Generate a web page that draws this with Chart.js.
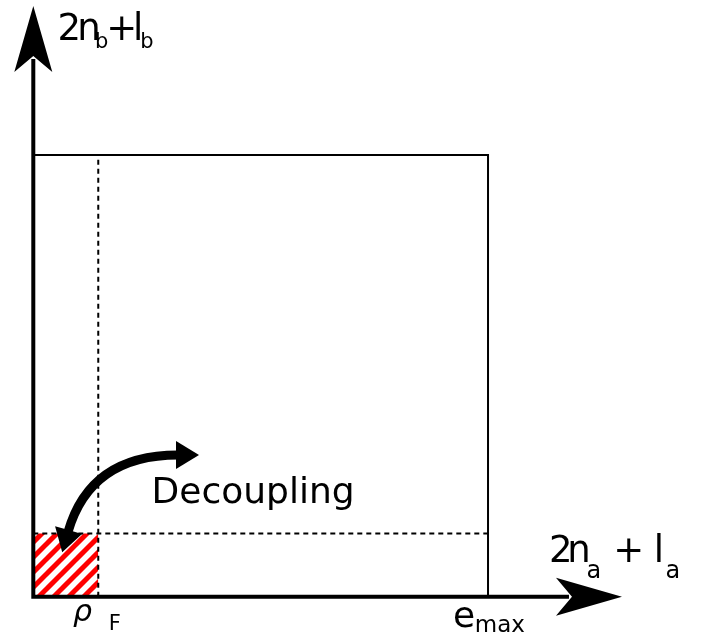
<!DOCTYPE html>
<html>
<head>
<meta charset="utf-8">
<script src="https://cdn.jsdelivr.net/npm/chart.js@4/dist/chart.umd.min.js"></script>
<style>
  html, body { margin: 0; padding: 0; background: #fff; }
  #wrap { width: 702px; height: 639px; }
</style>
</head>
<body>
<div id="wrap"><canvas id="c" width="702" height="639"></canvas></div>
<script>
// schematic values, in model-space units
const emax = 7;
const rhoF = 1;
const axisTips = [9.062, 9.361];          // x-axis tip, y-axis tip
const boxX = [0, 0, emax, emax];
const boxY = [0, emax, emax, 0];
// decoupling arrow: start, control, end
const curveX = [2.228, 0.873, 0.534];
const curveY = [2.246, 2.246, 1.025];

// text pieces: [text, x, y, size, italic]
const labelParts = [
  ['2', 0.371, 8.822, 37, false],
  ['n', 0.675, 8.822, 37, false],
  ['b', 0.95, 8.696, 21, false],
  ['+', 1.124, 8.822, 37, false],
  ['l', 1.535, 8.822, 37, false],
  ['b', 1.648, 8.696, 21, false],
  ['2', 7.939, 0.55, 37, false],
  ['n', 8.218, 0.55, 37, false],
  ['a', 8.515, 0.295, 24, false],
  ['+', 8.928, 0.55, 37, false],
  ['l', 9.55, 0.55, 37, false],
  ['a', 9.733, 0.295, 24, false],
  ['Decoupling', 1.82, 1.483, 36, false],
  ['\u03C1', 0.611, -0.391, 30, true],
  ['F', 1.162, -0.528, 21, false],
  ['e', 6.461, -0.48, 36, false],
  ['max', 6.796, -0.559, 23, false],
];

const FONT = '"DejaVu Sans", sans-serif';

function pts(xs, ys) {
  return xs.map((x, i) => ({ x: x, y: ys[i] }));
}

// red "/" stripes on white
function hatchPattern() {
  const s = 15, k = 5.5;
  const c = document.createElement('canvas');
  c.width = s; c.height = s;
  const g = c.getContext('2d');
  g.fillStyle = '#fff';
  g.fillRect(0, 0, s, s);
  g.strokeStyle = '#ff0000';
  g.lineWidth = 5;
  g.beginPath();
  [k - s, k, k + s].forEach(d => {          // lines x + y = d
    g.moveTo(d + 10, -10);
    g.lineTo(d - 30, 30);
  });
  g.stroke();
  return document.getElementById('c').getContext('2d').createPattern(c, 'repeat');
}

function head(ctx, tx, ty, dx, dy, len, half, notch) {
  const bx = tx - dx * len, by = ty - dy * len;
  const nx = tx - dx * (len - notch), ny = ty - dy * (len - notch);
  ctx.beginPath();
  ctx.moveTo(tx, ty);
  ctx.lineTo(bx - dy * half, by + dx * half);
  ctx.lineTo(nx, ny);
  ctx.lineTo(bx + dy * half, by - dx * half);
  ctx.closePath();
  ctx.fill();
}

const decorations = {
  id: 'decorations',
  afterDatasetsDraw(chart) {
    const ctx = chart.ctx;
    const sx = chart.scales.x, sy = chart.scales.y;
    const ox = sx.getPixelForValue(0), oy = sy.getPixelForValue(0);
    ctx.save();
    ctx.fillStyle = '#000';
    ctx.strokeStyle = '#000';

    // axes with arrowheads
    const xt = sx.getPixelForValue(axisTips[0]);
    const yt = sy.getPixelForValue(axisTips[1]);
    ctx.lineWidth = 4;
    ctx.lineCap = 'square';
    ctx.beginPath();
    ctx.moveTo(ox, oy); ctx.lineTo(xt - 55, oy);
    ctx.moveTo(ox, oy); ctx.lineTo(ox, yt + 55);
    ctx.stroke();
    head(ctx, xt, oy, 1, 0, 66, 19, 16);
    head(ctx, ox, yt, 0, -1, 66, 19, 16);

    // curved double arrow
    const p = curveX.map((x, i) => [sx.getPixelForValue(x), sy.getPixelForValue(curveY[i])]);
    ctx.lineWidth = 9;
    ctx.lineCap = 'butt';
    ctx.beginPath();
    ctx.moveTo(p[0][0], p[0][1]);
    ctx.quadraticCurveTo(p[1][0], p[1][1], p[2][0], p[2][1]);
    ctx.stroke();
    const ends = [[p[0], p[1]], [p[2], p[1]]];
    ends.forEach(([e, c]) => {
      let dx = e[0] - c[0], dy = e[1] - c[1];
      const n = Math.hypot(dx, dy);
      dx /= n; dy /= n;
      head(ctx, e[0] + dx * 21, e[1] + dy * 21, dx, dy, 23, 14, 0);
    });

    // labels
    ctx.textBaseline = 'alphabetic';
    ctx.textAlign = 'left';
    labelParts.forEach(([t, x, y, size, italic]) => {
      ctx.font = (italic ? 'italic ' : '') + size + 'px ' + FONT;
      ctx.fillText(t, sx.getPixelForValue(x), sy.getPixelForValue(y));
    });
    ctx.restore();
  }
};

new Chart(document.getElementById('c'), {
  type: 'scatter',
  data: {
    datasets: [
      {
        data: pts([0, rhoF], [rhoF, rhoF]),
        showLine: true,
        borderWidth: 0,
        borderColor: 'rgba(0,0,0,0)',
        backgroundColor: hatchPattern(),
        fill: 'origin',
        pointRadius: 0,
        order: 3,
      },
      {
        data: pts([rhoF, rhoF], [0, emax]),
        showLine: true,
        borderColor: '#000',
        borderWidth: 2,
        borderDash: [5, 4],
        pointRadius: 0,
        order: 2,
      },
      {
        data: pts([0, emax], [rhoF, rhoF]),
        showLine: true,
        borderColor: '#000',
        borderWidth: 2,
        borderDash: [5, 4],
        pointRadius: 0,
        order: 2,
      },
      {
        data: pts(boxX, boxY),
        showLine: true,
        borderColor: '#000',
        borderWidth: 2,
        pointRadius: 0,
        order: 1,
      },
    ],
  },
  options: {
    responsive: false,
    animation: false,
    devicePixelRatio: 1,
    layout: { padding: 0 },
    plugins: {
      legend: { display: false },
      tooltip: { enabled: false },
    },
    scales: {
      x: { type: 'linear', min: -0.5126, max: 10.294, display: false },
      y: { type: 'linear', min: -0.671, max: 9.456, display: false },
    },
  },
  plugins: [decorations],
});
</script>
</body>
</html>
